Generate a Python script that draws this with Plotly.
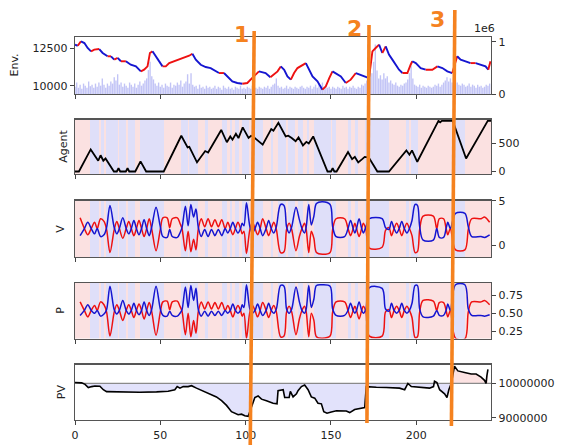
import numpy as np
import plotly.graph_objects as go

XMAX = 243.8
STEPS = list(range(244))

# agent action per step: R = buy (red), B = sell (blue)
ACTIONS = ("RRRRRRRRR" "BBBBB" "R" "BB" "R" "BBBBBBB" "R" "BBBB" "R" "BBBB" "RRR"
           "BBBBBBBBBBBBBB" "RRRRRRRRRR" "BBBB" "R" "BBBBB" "RRRR" "BB" "RRRRRRRR"
           "BBB" "RR" "B" "RR" "BB" "RR" "BBBB" "R" "BBBBBBB" "RRRRR" "B" "RRR"
           "BBBBB" "R" "BBBB" "RR" "BBB" "RR" "B" "RRR" "BBBBBBBBBB" "R" "BB"
           "RRRRRRR" "BB" "RR" "BB" "RRRR" "BBBBBBBBBBBBBB" "RRRRRRRRRR" "BB" "R"
           "BBBB" "RRRRRRRRRRRRRRRRRRRR" "BBBBBBBB" "RRRRRRRRRRRRRRR")

PRICE_X = [0, 1.6, 3.5, 5.5, 7.4, 9.4, 11.3, 14.2, 16.2, 19.1,
           21.1, 23, 25, 26.9, 29.8, 32.7, 35.7, 38.6, 40.5, 42.5,
           43.9, 45.4, 47.4, 49.3, 51.3, 53.2, 55.2, 58.1, 61, 63.9,
           66.9, 68.8, 70.8, 73.7, 76.6, 79.5, 82.5, 84.4, 87.3, 89.3,
           92.2, 95.1, 98.1, 101, 102.9, 104.9, 107.8, 111.7, 114.5, 118.7,
           120.6, 122.6, 124.5, 126.5, 128.4, 130.4, 133.3, 135.3, 137.2, 139.2,
           142.1, 145, 147, 149, 150.9, 152.8, 155.8, 158.7, 161.6, 164.6,
           167.5, 170.4, 172.3, 174.3, 176.2, 178.2, 180.1, 182.1, 184, 186,
           188, 189.9, 191.9, 194.8, 196.7, 197.7, 199.7, 202.6, 205.5, 209.4,
           212.4, 215.3, 218.2, 221.1, 224, 226, 228.9, 231.8, 234.8, 237.7,
           240.6, 242.2, 243.5]
PRICE_Y = [12720, 12650, 12940, 12830, 12500, 12280, 12390, 12430, 12170, 11950,
           11950, 11730, 11840, 11620, 11620, 11390, 11280, 10950, 11060, 11280,
           12170, 12280, 11950, 11620, 11280, 11280, 11500, 11620, 11770, 11840,
           11990, 12120, 11730, 11390, 11240, 11170, 10950, 10840, 10840, 10620,
           10290, 10180, 10130, 10180, 10400, 10620, 10950, 10840, 10560, 10950,
           11280, 11060, 10620, 10400, 10840, 11170, 11390, 11500, 11060, 10620,
           10290, 9735, 9960, 10510, 10950, 10840, 10620, 10180, 10400, 10840,
           10730, 10620, 10510, 12280, 12500, 12720, 12170, 12610, 12060, 11730,
           11390, 11060, 10840, 10840, 11390, 11620, 11500, 11170, 11060, 11060,
           11280, 11170, 10950, 10840, 11950, 11730, 11620, 11500, 11500, 11390,
           11280, 11060, 11620]

# volume in millions (axis shows 1e6 offset)
VOLUME = [.14, .22, .12, .18, .1, .2, .16, .12, .24, .15,
          .18, .12, .2, .14, .22, .16, .3, .18, .12, .2,
          .16, .24, .2, .32, .26, .38, .18, .22, .14, .2,
          .16, .12, .22, .18, .14, .2, .12, .18, .24, .16,
          .2, .26, .3, .46, .62, .34, .28, .2, .16, .22,
          .14, .18, .12, .2, .16, .14, .22, .12, .18, .16,
          .22, .18, .26, .14, .2, .24, .38, .2, .4, .18,
          .14, .16, .1, .18, .12, .14, .1, .16, .12, .14,
          .1, .12, .16, .1, .14, .12, .08, .16, .12, .1,
          .14, .1, .12, .08, .14, .12, .1, .16, .1, .12,
          .1, .14, .12, .1, .16, .2, .12, .1, .14, .12,
          .1, .14, .12, .16, .1, .14, .18, .2, .3, .16,
          .12, .14, .1, .12, .16, .1, .14, .12, .1, .14,
          .12, .1, .14, .16, .12, .1, .14, .12, .16, .1,
          .14, .18, .12, .2, .16, .22, .14, .18, .12, .14,
          .1, .14, .12, .1, .14, .12, .1, .16, .12, .14,
          .1, .14, .12, .16, .12, .1, .14, .12, .18, .16,
          .2, .26, .34, .5, .4, .62, .95, .45, .3, .36,
          .28, .4, .3, .34, .22, .26, .2, .18, .22, .16,
          .14, .18, .16, .2, .22, .28, .4, .55, .3, .18,
          .16, .14, .18, .12, .16, .14, .12, .16, .14, .12,
          .14, .18, .16, .2, .14, .18, .22, .26, .32, .24,
          .3, .22, .2, .26, .22, .18, .16, .2, .18, .14,
          .16, .2, .14, .18, .16, .12, .18, .14, .16, .12,
          .14, .18, .16, .2]

AGENT_X = [0, 2.3, 9.2, 13.6, 15, 16.6, 17.9, 22.8, 24.5, 25.5,
           26.5, 29.8, 30.8, 31.8, 35.3, 38.4, 41.7, 52, 62.3, 66,
           67, 71.5, 76.3, 78, 85.7, 89, 91, 92.3, 94.3, 95.8,
           98.3, 101.7, 103.2, 104.5, 110, 115, 116.3, 119.2, 123.5, 125,
           127, 129.3, 131, 133.6, 135.6, 137, 139.6, 148, 150, 151,
           152, 153.3, 160, 162.4, 164, 166, 168.3, 169.8, 172.2, 177.2,
           184, 194.2, 196, 197.5, 200.6, 213, 214, 215, 221.4, 229.2,
           241.9, 243.8]
AGENT_Y = [0, 0, 395, 192, 290, 192, 232, 0, 0, 58,
           0, 0, 58, 0, 0, 180, 0, 0, 639, 430,
           440, 163, 366, 340, 743, 523, 627, 569, 674, 598,
           790, 600, 640, 620, 480, 760, 730, 871, 627, 640,
           600, 540, 610, 465, 530, 500, 627, 0, 0, 58,
           0, 0, 348, 221, 261, 163, 221, 261, 250, 0,
           0, 377, 300, 377, 174, 906, 880, 906, 906, 233,
           906, 906]

VP_X = [3, 5.5, 7.5, 9.5, 11.5, 13, 15, 17, 18.5, 20.5,
        23, 24.5, 26, 28, 30, 31.5, 33, 34.5, 36, 37.5,
        39, 40.5, 42, 43.5, 45, 47.5, 50, 51.5, 54, 55.5,
        57, 60, 61.5, 62.7, 64.7, 66.3, 67.9, 69.5, 70.9, 72.3,
        74, 76, 78, 80, 82, 84, 86, 88, 89.5, 91,
        92.5, 94, 95.5, 97, 98, 99, 100.5, 102.5, 104, 105.5,
        107, 108.5, 110, 112, 113.5, 115, 116.5, 118, 120.5, 122.5,
        124, 125.5, 127, 129.5, 131.5, 133, 134.5, 135.5, 137, 138.5,
        140, 141.5, 145, 149.5, 151, 153, 158, 160, 161.5, 163,
        164, 165, 166.5, 168, 169, 170.5, 172.5, 180, 182, 184,
        185.5, 187, 188.5, 190, 191.5, 193, 194.5, 196, 197.5, 199.3,
        200.7, 202, 204, 210, 212, 213.5, 216, 217.5, 218.5, 220,
        223, 228.5, 230.5, 232.5, 238, 240, 243]
P_RED = [.66, .54, .45, .54, .61, .54, .66, .62, .52, .18,
         .52, .62, .54, .40, .54, .62, .54, .44, .54, .63,
         .54, .42, .54, .65, .52, .19, .52, .66, .67, .55,
         .66, .67, .60, .53, .20, .50, .17, .40, .22, .53,
         .66, .56, .66, .56, .65, .56, .65, .54, .61, .54,
         .45, .54, .61, .54, .46, .50, .15, .52, .61, .54,
         .45, .54, .65, .54, .44, .54, .61, .52, .17, .18,
         .52, .60, .52, .20, .42, .54, .60, .52, .17, .50,
         .40, .17, .15, .18, .52, .66, .66, .54, .44, .54,
         .60, .54, .42, .54, .60, .52, .18, .18, .52, .55,
         .44, .54, .60, .54, .44, .54, .60, .54, .44, .16,
         .17, .52, .68, .67, .54, .65, .65, .54, .45, .54,
         .15, .14, .52, .66, .66, .68, .62]
P_BLUE = [.47, .54, .62, .54, .50, .54, .46, .49, .55, .88,
          .55, .49, .54, .68, .54, .49, .54, .64, .54, .48,
          .54, .66, .54, .47, .56, .88, .56, .47, .46, .53,
          .47, .46, .50, .55, .87, .58, .89, .68, .85, .55,
          .46, .53, .46, .53, .47, .53, .47, .54, .50, .54,
          .63, .54, .50, .54, .62, .58, .90, .56, .50, .54,
          .63, .54, .47, .54, .64, .54, .50, .56, .89, .88,
          .56, .50, .56, .87, .66, .54, .50, .56, .89, .58,
          .70, .89, .90, .88, .56, .47, .47, .54, .64, .54,
          .50, .54, .66, .54, .50, .56, .86, .85, .56, .53,
          .64, .54, .50, .54, .64, .54, .50, .54, .64, .89,
          .89, .56, .45, .46, .54, .47, .47, .54, .63, .54,
          .90, .90, .56, .47, .47, .46, .48]
V_RED = [3.1, 1.9, 1.2, 1.9, 2.6, 1.9, 3.0, 2.7, 1.8, -0.8,
         1.8, 2.7, 1.9, 0.8, 1.9, 2.7, 1.9, 1.1, 1.9, 2.8,
         1.9, 1.0, 1.9, 3.0, 1.8, -0.6, 1.8, 3.1, 3.1, 2.0,
         3.0, 3.1, 2.5, 1.9, -0.6, 1.6, -0.7, 0.7, -0.5, 1.9,
         3.0, 2.1, 3.0, 2.1, 2.9, 2.1, 2.9, 1.9, 2.6, 1.9,
         1.2, 1.9, 2.6, 1.9, 1.3, 1.6, -0.9, 1.8, 2.6, 1.9,
         1.2, 1.9, 3.0, 1.9, 1.1, 1.9, 2.6, 1.8, -0.8, -0.7,
         1.8, 2.5, 1.8, -0.6, 1.0, 1.9, 2.5, 1.8, -0.8, 1.6,
         0.8, -0.8, -1.0, -0.8, 1.8, 3.0, 3.0, 1.9, 1.1, 1.9,
         2.5, 1.9, 1.0, 1.9, 2.5, 1.8, -0.3, -0.2, 1.7, 2.0,
         1.1, 1.9, 2.5, 1.9, 1.1, 1.9, 2.5, 1.9, 1.1, -0.8,
         -0.7, 1.8, 3.3, 3.3, 1.9, 3.0, 3.0, 1.9, 1.2, 1.9,
         -0.5, -0.5, 1.8, 3.0, 3.0, 3.2, 2.6]
V_BLUE = [1.1, 1.9, 2.6, 1.9, 1.3, 1.9, 1.0, 1.2, 2.0, 4.5,
          2.0, 1.3, 1.9, 3.1, 1.9, 1.3, 1.9, 2.8, 1.9, 1.2,
          1.9, 2.9, 1.9, 1.1, 2.1, 4.3, 2.1, 1.0, 0.9, 1.8,
          1.0, 0.9, 1.4, 2.0, 4.4, 2.2, 4.6, 3.2, 4.1, 2.0,
          1.0, 1.8, 1.0, 1.8, 1.1, 1.8, 1.1, 1.9, 1.4, 1.9,
          2.6, 1.9, 1.4, 1.9, 2.5, 2.2, 4.8, 2.1, 1.4, 1.9,
          2.6, 1.9, 1.1, 1.9, 2.8, 1.9, 1.4, 2.1, 4.6, 4.5,
          2.1, 1.4, 2.1, 4.3, 2.9, 1.9, 1.4, 2.1, 4.6, 2.3,
          3.3, 4.7, 4.9, 4.6, 2.1, 1.0, 1.0, 1.9, 2.8, 1.9,
          1.4, 1.9, 3.0, 1.9, 1.4, 2.1, 3.0, 3.0, 2.0, 1.8,
          2.7, 1.9, 1.4, 1.9, 2.7, 1.9, 1.4, 1.9, 2.8, 4.6,
          4.5, 2.1, 0.6, 0.6, 1.9, 0.9, 0.9, 1.9, 2.6, 1.9,
          3.6, 3.6, 2.1, 1.0, 1.0, 0.9, 1.2]

PV_BASE = 10000000
PV_X = [0, 3.9, 5.9, 7.8, 9.8, 11.7, 14.6, 16.6, 18.5, 24.4,
        38, 47.8, 54.6, 58.5, 59.9, 61.5, 63.4, 66.3, 68.3, 71.2,
        75.1, 79, 82.9, 85.9, 88.8, 91.7, 93.7, 95.6, 97.6, 99.5,
        101.5, 102.8, 105.4, 107.3, 109.3, 112.2, 116.1, 118.4, 119, 122,
        122.9, 125.5, 126.2, 127.8, 129.8, 130.7, 132.7, 134.6, 136.6, 138.5,
        140.5, 142.4, 144.4, 145.8, 147.7, 150.2, 153.2, 159, 161, 163.9,
        166.8, 169.8, 170.7, 173.7, 176.6, 182.4, 190.2, 193.2, 195.1, 197.1,
        202, 207.8, 210.1, 210.7, 212.1, 213.7, 216.6, 218, 219.1, 220.5,
        222.4, 224.4, 228.3, 232.2, 235.1, 238, 240, 240.9, 241.4, 242]
PV_Y = [10027000, 10018000, 9973000, 9882000, 9909000, 9927000, 9918000, 9818000, 9764000, 9755000,
        9745000, 9755000, 9773000, 9818000, 9909000, 9864000, 9909000, 9909000, 9936000, 9864000,
        9773000, 9682000, 9609000, 9500000, 9364000, 9182000, 9136000, 9091000, 9109000, 9064000,
        9045000, 9227000, 9591000, 9636000, 9545000, 9500000, 9427000, 9409000, 9791000, 9818000,
        9591000, 9591000, 9773000, 9609000, 9700000, 9791000, 9909000, 9955000, 9818000, 9609000,
        9573000, 9427000, 9409000, 9182000, 9136000, 9173000, 9209000, 9200000, 9155000, 9245000,
        9273000, 9300000, 9909000, 9909000, 9891000, 9882000, 9864000, 9818000, 10000000, 9909000,
        9882000, 9864000, 9909000, 10064000, 10027000, 9818000, 9700000, 9591000, 9818000, 10000000,
        10500000, 10364000, 10318000, 10273000, 10273000, 10182000, 10091000, 10000000, 10227000, 10409000]

# ---------------- layout geometry ----------------
W, H = 565, 445
ML, MR, MT, MB = 75, 74, 37, 25
PW, PH = W - ML - MR, H - MT - MB


def ypap(p):
    return (H - MB - p) / PH


def xpap(p):
    return (p - ML) / PW


ROWS = [(37, 94), (119.5, 174), (200.5, 257), (283, 338.5), (364.5, 420)]
DOM = [[ypap(b), ypap(t)] for t, b in ROWS]

RED, BLUE = "#ee1111", "#1515d0"
RED_BG, BLUE_BG = "#fbe1e1", "#dfdff9"
ORANGE = "#f5821f"
FONT = "DejaVu Sans"

fig = go.Figure()

# ---- row 1: Env ----
fig.add_trace(go.Bar(x=STEPS, y=VOLUME, width=0.8, marker=dict(color="rgba(120,125,235,0.45)", line=dict(width=0)),
                     xaxis="x", yaxis="y", hoverinfo="skip"))
segs = []
start = 0
cols = [RED if PRICE_Y[i + 1] >= PRICE_Y[i] else BLUE for i in range(len(PRICE_X) - 1)]
for i in range(1, len(cols) + 1):
    if i == len(cols) or cols[i] != cols[start]:
        segs.append((start, i, cols[start]))
        start = i
for s, e, c in segs:
    fig.add_trace(go.Scatter(x=PRICE_X[s:e + 1], y=PRICE_Y[s:e + 1], mode="lines",
                             line=dict(color=c, width=1.9), xaxis="x", yaxis="y6", hoverinfo="skip"))

# ---- background stripes for rows 2-4 ----
zrow = [[1 if a == "R" else 0 for a in ACTIONS[:244]]]
edges = list(range(len(zrow[0]) + 1))
RANGES = {2: [-45, 930], 3: [-1.3, 5.05], 4: [0.146, 0.925], 5: [8.94e6, 10.55e6]}
for r in (2, 3, 4):
    fig.add_trace(go.Heatmap(z=zrow, x=edges, y=RANGES[r], colorscale=[[0, BLUE_BG], [1, RED_BG]],
                             zmin=0, zmax=1, showscale=False, hoverinfo="skip",
                             xaxis=f"x{r}", yaxis=f"y{r}"))

# ---- row 2: Agent ----
fig.add_trace(go.Scatter(x=AGENT_X, y=AGENT_Y, mode="lines", line=dict(color="black", width=1.8),
                         xaxis="x2", yaxis="y2", hoverinfo="skip"))

# ---- rows 3,4: V and P ----
n = min(len(VP_X), len(P_RED), len(P_BLUE), len(V_RED), len(V_BLUE))
for ys, c, r in ((V_RED, RED, 3), (V_BLUE, BLUE, 3), (P_RED, RED, 4), (P_BLUE, BLUE, 4)):
    fig.add_trace(go.Scatter(x=VP_X[:n], y=ys[:n], mode="lines",
                             line=dict(color=c, width=1.5, shape="spline", smoothing=0.9),
                             xaxis=f"x{r}", yaxis=f"y{r}", hoverinfo="skip"))

# ---- row 5: PV ----
pv = np.array(PV_Y, dtype=float)
base = [PV_BASE] * len(PV_X)
fig.add_trace(go.Scatter(x=PV_X, y=base, mode="lines", line=dict(width=0), xaxis="x5", yaxis="y5", hoverinfo="skip"))
fig.add_trace(go.Scatter(x=PV_X, y=np.minimum(pv, PV_BASE), mode="lines", line=dict(width=0), fill="tonexty",
                         fillcolor="rgba(60,60,230,0.15)", xaxis="x5", yaxis="y5", hoverinfo="skip"))
fig.add_trace(go.Scatter(x=PV_X, y=base, mode="lines", line=dict(width=0), xaxis="x5", yaxis="y5", hoverinfo="skip"))
fig.add_trace(go.Scatter(x=PV_X, y=np.maximum(pv, PV_BASE), mode="lines", line=dict(width=0), fill="tonexty",
                         fillcolor="rgba(235,60,60,0.15)", xaxis="x5", yaxis="y5", hoverinfo="skip"))
fig.add_trace(go.Scatter(x=[0, XMAX], y=[PV_BASE, PV_BASE], mode="lines", line=dict(color="#8a8a8a", width=1.3),
                         xaxis="x5", yaxis="y5", hoverinfo="skip"))
fig.add_trace(go.Scatter(x=PV_X, y=PV_Y, mode="lines", line=dict(color="black", width=1.6),
                         xaxis="x5", yaxis="y5", hoverinfo="skip"))

# ---------------- axes ----------------
tickfont = dict(family=FONT, size=11, color="#222")
common = dict(showline=True, linecolor="#555", linewidth=1.3, ticks="outside", ticklen=4, tickwidth=1,
              tickcolor="#444", showgrid=False, zeroline=False, tickfont=tickfont, fixedrange=True,
              automargin=False)
layout = dict(width=W, height=H, margin=dict(l=ML, r=MR, t=MT, b=MB, autoexpand=False), showlegend=False,
              plot_bgcolor="white", paper_bgcolor="white", barmode="overlay", hovermode=False,
              font=dict(family=FONT, size=11, color="#222"))
for r in range(1, 6):
    key = "xaxis" if r == 1 else f"xaxis{r}"
    layout[key] = dict(common, domain=[0, 1], range=[0, XMAX], tickvals=[0, 50, 100, 150, 200],
                       showticklabels=(r == 5), anchor=("y" if r == 1 else f"y{r}"), mirror=True)
layout["yaxis"] = dict(common, domain=DOM[0], range=[0, 1.096], side="right", tickvals=[0, 1],
                       ticktext=["0", "1"], anchor="x", mirror=True)
layout["yaxis6"] = dict(common, range=[9450, 13230], side="left", overlaying="y", anchor="x",
                        tickvals=[10000, 12500], ticktext=["10000", "12500"])
layout["yaxis2"] = dict(common, domain=DOM[1], range=RANGES[2], side="right", tickvals=[0, 500],
                        anchor="x2", mirror=True)
layout["yaxis3"] = dict(common, domain=DOM[2], range=RANGES[3], side="right", tickvals=[0, 5],
                        anchor="x3", mirror=True)
layout["yaxis4"] = dict(common, domain=DOM[3], range=RANGES[4], side="right", tickvals=[0.25, 0.5, 0.75],
                        ticktext=["0.25", "0.50", "0.75"], anchor="x4", mirror=True)
layout["yaxis5"] = dict(common, domain=DOM[4], range=RANGES[5], side="right", tickvals=[9000000, 10000000],
                        ticktext=["9000000", "10000000"], anchor="x5", mirror=True)

ann = []
for text, xp, dom in (("Env.", 14, DOM[0]), ("Agent", 64, DOM[1]), ("V", 61, DOM[2]),
                      ("P", 61, DOM[3]), ("PV", 61, DOM[4])):
    ann.append(dict(text=text, x=xpap(xp), y=(dom[0] + dom[1]) / 2, xref="paper", yref="paper",
                    showarrow=False, textangle=-90, font=dict(family=FONT, size=11, color="#222"),
                    xanchor="center", yanchor="middle"))
ann.append(dict(text="1e6", x=xpap(484), y=ypap(29), xref="paper", yref="paper", showarrow=False,
                font=dict(family=FONT, size=11, color="#222"), xanchor="center", yanchor="middle"))

# hand-drawn orange markers (label, bottom x, top x, bottom px, top px, label px)
MARKS = [("1", 102.7, 105.0, 445, 31, (241, 34)),
         ("2", 171.1, 172.3, 423, 25, (354, 28)),
         ("3", 220.6, 222.6, 426, 10, (437, 20))]
shapes = []
for lab, xb, xt, pb, pt, (lx, ly) in MARKS:
    shapes.append(dict(type="line", xref="paper", yref="paper", x0=xb / XMAX, x1=xt / XMAX,
                       y0=ypap(pb), y1=ypap(pt), line=dict(color=ORANGE, width=3.6), layer="above"))
    ann.append(dict(text=f"<b>{lab}</b>", x=xpap(lx), y=ypap(ly), xref="paper", yref="paper",
                    showarrow=False, font=dict(family=FONT, size=22, color=ORANGE),
                    xanchor="center", yanchor="middle"))
layout["annotations"] = ann
layout["shapes"] = shapes

fig.update_layout(**layout)
fig.write_html("out.html", config={"displayModeBar": False, "staticPlot": True},
               post_script="document.body.style.margin='0px';")
